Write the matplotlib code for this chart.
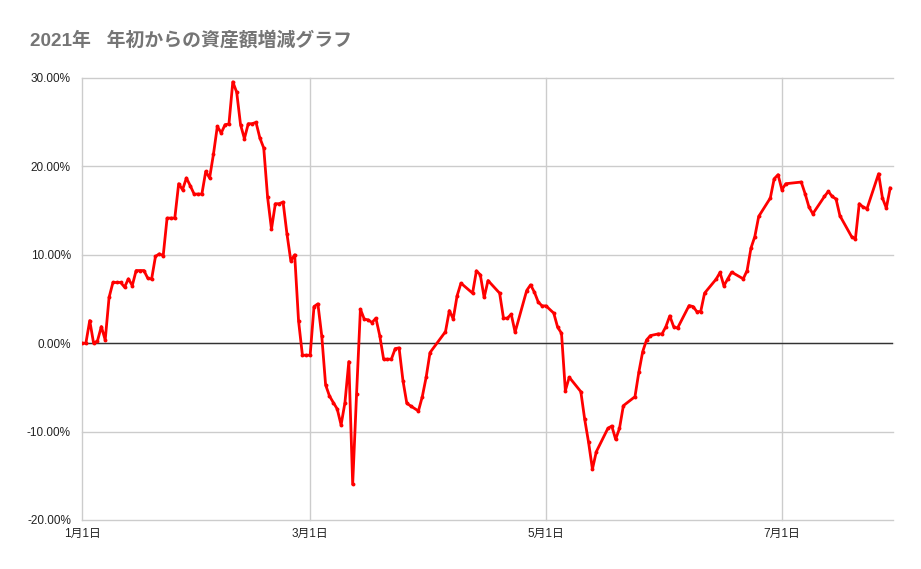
import matplotlib
matplotlib.use("Agg")
import matplotlib.pyplot as plt
import matplotlib.ticker as mticker
import pandas as pd
import numpy as np

plt.rcParams['font.family'] = ['Liberation Sans', 'Noto Sans CJK JP', 'DejaVu Sans']

# Day offsets from 2021-01-01 and asset change (%)
day_offsets = [
    0, 1, 2, 3, 4, 5, 6, 7, 8, 9, 10, 11, 12, 13, 14, 15, 16, 17, 18, 19,
    20, 21, 22, 23, 24, 25, 26, 27, 28, 29, 30, 31, 32, 33, 34, 35, 36, 37, 38, 39,
    40, 41, 42, 43, 44, 45, 46, 47, 48, 49, 50, 51, 52, 53, 54, 55, 56, 57, 58, 59,
    60, 61, 62, 63, 64, 65, 66, 67, 68, 69, 70, 71, 72, 73, 74, 75, 76, 77, 78, 79,
    80, 81, 82, 83, 84, 85, 87, 88, 89, 90, 94, 95, 96, 97, 98, 101, 102, 103, 104, 105,
    108, 109, 110, 111, 112, 115, 116, 117, 118, 119, 120, 122, 123, 124, 125, 126, 129, 130, 131, 132,
    133, 136, 137, 138, 139, 140, 143, 144, 145, 146, 147, 149, 150, 151, 152, 153, 154, 157, 158, 159,
    160, 161, 164, 165, 166, 167, 168, 171, 172, 173, 174, 175, 178, 179, 180, 181, 182, 186, 187, 188,
    189, 192, 193, 194, 195, 196, 199, 200, 201, 202, 203, 206, 207, 208, 209,
]
change_pct = [
    0.00, 0.00, 2.56, 0.00, 0.26, 1.88, 0.37, 5.17, 6.87, 6.87, 6.87, 6.34, 7.28, 6.52, 8.22, 8.22, 8.22, 7.36, 7.25, 9.81,
    10.11, 9.90, 14.15, 14.15, 14.15, 18.04, 17.36, 18.69, 17.81, 16.87, 16.87, 16.87, 19.43, 18.69, 21.40, 24.53, 23.78, 24.72, 24.80, 29.56,
    28.40, 24.72, 23.14, 24.83, 24.83, 24.98, 23.22, 22.08, 16.49, 12.91, 15.78, 15.78, 15.97, 12.38, 9.32, 10.00, 2.53, -1.36, -1.36, -1.36,
    4.15, 4.45, 0.83, -4.72, -5.97, -6.72, -7.44, -9.25, -6.72, -2.08, -15.97, -5.78, 3.85, 2.72, 2.64, 2.34, 2.83, 0.86, -1.81, -1.81,
    -1.81, -0.61, -0.53, -4.23, -6.80, -7.10, -7.67, -6.05, -3.85, -1.06, 1.31, 3.69, 2.75, 5.36, 6.79, 5.66, 8.19, 7.74, 5.17, 7.09,
    5.66, 2.83, 2.83, 3.28, 1.25, 5.96, 6.60, 5.77, 4.64, 4.22, 4.22, 3.40, 1.81, 1.13, -5.37, -3.85, -5.48, -8.61, -11.21, -14.24,
    -12.28, -9.63, -9.37, -10.87, -9.63, -7.07, -6.05, -3.28, -0.95, 0.37, 0.86, 1.05, 1.05, 1.88, 3.09, 1.88, 1.70, 4.26, 4.15, 3.58,
    3.58, 5.66, 7.25, 8.00, 6.49, 7.28, 8.04, 7.28, 8.22, 10.76, 12.07, 14.34, 16.42, 18.60, 19.06, 17.36, 18.04, 18.23, 16.91, 15.40,
    14.64, 16.60, 17.17, 16.60, 16.31, 14.42, 12.07, 11.78, 15.78, 15.40, 15.21, 19.17, 16.42, 15.29, 17.55,
]

y_ticks = [-20, -10, 0, 10, 20, 30]
x_tick_dates = ['2021-01-01', '2021-03-01', '2021-05-01', '2021-07-01']
x_tick_labels = ['1月1日', '3月1日', '5月1日', '7月1日']
title = '2021年   年初からの資産額増減グラフ'

start = pd.Timestamp('2021-01-01')
dates = [start + pd.Timedelta(days=d) for d in day_offsets]
values = np.array(change_pct) / 100.0

fig = plt.figure(figsize=(9.21, 5.69), dpi=100)
ax = fig.add_axes([82 / 921, 1 - 520 / 569, (892.5 - 82) / 921, (520 - 78) / 569])

ax.plot(dates, values, color='#ff0000', lw=2.0, marker='o', ms=2.8,
        markeredgewidth=0, zorder=3, solid_joinstyle='round')

ax.set_ylim(-0.20, 0.30)
ax.set_xlim(start, start + pd.Timedelta(days=209.6))
ax.set_yticks([t / 100 for t in y_ticks])
ax.yaxis.set_major_formatter(mticker.FuncFormatter(lambda v, p: f'{v * 100:.2f}%'))
ax.set_xticks([pd.Timestamp(d) for d in x_tick_dates])
ax.set_xticklabels(x_tick_labels)

ax.grid(True, color='#cccccc', lw=1.0, zorder=0)
for gl in ax.get_ygridlines() + ax.get_xgridlines():
    gl.set_clip_on(False)
ax.axhline(0, color='#333333', lw=1.0, zorder=2)
for s in ax.spines.values():
    s.set_visible(False)
ax.tick_params(axis='both', length=0, labelsize=8.5, colors='#222222')
ax.tick_params(axis='y', pad=8)
ax.tick_params(axis='x', pad=6)

fig.text(30 / 921, 1 - 40 / 569, title, fontsize=13.6, fontweight='bold',
         color='#757575', ha='left', va='center')

fig.savefig('out.png', dpi=100, facecolor='white')
